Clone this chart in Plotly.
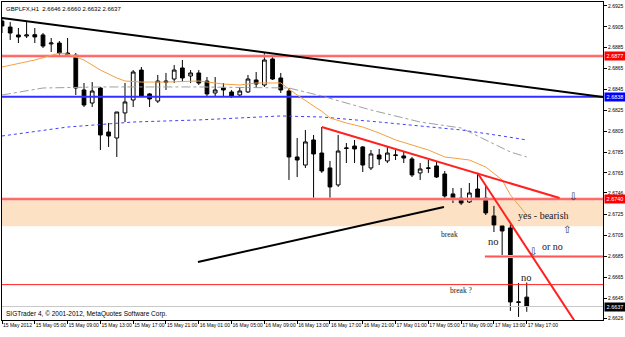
import plotly.graph_objects as go
import pandas as pd

# ---------------- data ----------------
start = pd.Timestamp("2012-05-15 01:00")
title_text = "GBPLFX,H1  2.6646 2.6660 2.6632 2.6637"
copyright_text = "SIGTrader 4, © 2001-2012, MetaQuotes Software Corp."

opens = [2.69106, 2.69048, 2.68972, 2.68962, 2.68975, 2.68972, 2.68886, 2.68895, 2.68799, 2.68780,
         2.68445, 2.68320, 2.68464, 2.68042, 2.67985, 2.68225, 2.68349, 2.68636, 2.68407, 2.68339,
         2.68531, 2.68550, 2.68656, 2.68579, 2.68608, 2.68531, 2.68416, 2.68464, 2.68426, 2.68397,
         2.68426, 2.68541, 2.68493, 2.68742, 2.68560, 2.68435, 2.67803, 2.67726, 2.67966, 2.67841,
         2.67698, 2.67535, 2.67884, 2.67908, 2.67899, 2.67698, 2.67822, 2.67765, 2.67817, 2.67813,
         2.67784, 2.67650, 2.67693, 2.67717, 2.67640, 2.67449, 2.67410, 2.67372, 2.67496, 2.67410,
         2.67238, 2.67142, 2.67123, 2.66409, 2.6646]
highs = [2.69125, 2.69096, 2.69039, 2.69096, 2.69039, 2.68991, 2.68943, 2.68914, 2.68943, 2.68799,
         2.68512, 2.68521, 2.68474, 2.68129, 2.68234, 2.68512, 2.68636, 2.68665, 2.68416, 2.68589,
         2.68608, 2.68684, 2.68732, 2.68636, 2.68636, 2.68569, 2.68569, 2.68512, 2.68445, 2.68474,
         2.68589, 2.68617, 2.68799, 2.68780, 2.68608, 2.68464, 2.67985, 2.68062, 2.68014, 2.68090,
         2.67765, 2.68014, 2.67937, 2.67966, 2.67908, 2.67870, 2.67880, 2.67899, 2.67880, 2.67860,
         2.67803, 2.67745, 2.67774, 2.67755, 2.67669, 2.67506, 2.67506, 2.67554, 2.67650, 2.67535,
         2.67334, 2.67142, 2.67152, 2.66596, 2.6660]
lows = [2.68991, 2.68924, 2.68895, 2.68943, 2.68895, 2.68847, 2.68809, 2.68780, 2.68761, 2.68397,
        2.68282, 2.68282, 2.67870, 2.67899, 2.67803, 2.68138, 2.68282, 2.68378, 2.68282, 2.68320,
        2.68445, 2.68512, 2.68521, 2.68512, 2.68493, 2.68378, 2.68378, 2.68378, 2.68368, 2.68378,
        2.68416, 2.68464, 2.68474, 2.68541, 2.68416, 2.67583, 2.67611, 2.67698, 2.67391, 2.67650,
        2.67391, 2.67516, 2.67745, 2.67745, 2.67659, 2.67678, 2.67726, 2.67745, 2.67774, 2.67745,
        2.67611, 2.67583, 2.67650, 2.67602, 2.67410, 2.67362, 2.67343, 2.67362, 2.67391, 2.67247,
        2.67084, 2.66855, 2.66328, 2.66270, 2.6632]
closes = [2.69058, 2.68991, 2.68953, 2.68972, 2.68953, 2.68866, 2.68895, 2.68799, 2.68771, 2.68464,
          2.68301, 2.68435, 2.68014, 2.68004, 2.68234, 2.68330, 2.68617, 2.68387, 2.68359, 2.68531,
          2.68521, 2.68636, 2.68560, 2.68608, 2.68512, 2.68407, 2.68445, 2.68445, 2.68387, 2.68435,
          2.68550, 2.68502, 2.68732, 2.68550, 2.68445, 2.67803, 2.67774, 2.67947, 2.67832, 2.67669,
          2.67516, 2.67860, 2.67889, 2.67880, 2.67726, 2.67832, 2.67784, 2.67841, 2.67822, 2.67793,
          2.67631, 2.67688, 2.67698, 2.67611, 2.67429, 2.67401, 2.67362, 2.67458, 2.67401, 2.67267,
          2.67152, 2.67094, 2.66414, 2.66414, 2.6637]

# moving averages (bar index, price)
ma_orange_bar = [0, 4, 7, 8, 10, 12, 14, 15, 17, 20, 24, 27, 29, 31, 34, 36, 39, 40, 42, 44, 46, 48,
                 50, 52, 54, 57, 59, 61, 62, 63, 64]
ma_orange_val = [2.68665, 2.68732, 2.68799, 2.68790, 2.68732, 2.68636, 2.68560, 2.68531, 2.68521,
                 2.68521, 2.68531, 2.68502, 2.68493, 2.68512, 2.68512, 2.68397, 2.68240, 2.68177,
                 2.68129, 2.68090, 2.68033, 2.67966, 2.67918, 2.67870, 2.67803, 2.67774, 2.67707,
                 2.67583, 2.67440, 2.67340, 2.67247]
ma_grey_bar = [0, 5, 12, 24, 35, 39, 45, 51, 56, 59, 62, 64]
ma_grey_val = [2.68397, 2.68464, 2.68474, 2.68474, 2.68464, 2.68387, 2.68253, 2.68138, 2.68081,
               2.67966, 2.67851, 2.67803]
ma_blue_bar = [0, 8, 16, 24, 34, 39, 46, 52, 56, 61, 64]
ma_blue_val = [2.68004, 2.68090, 2.68138, 2.68158, 2.68196, 2.68186, 2.68138, 2.68090, 2.68062,
               2.68004, 2.67966]

# horizontal levels
level_red_top = 2.6877
level_blue = 2.6838
zone_top = 2.6740
zone_bottom = 2.6714
level_red_mid = 2.6685
level_red_mid_from = 58.9
level_red_low = 2.6658
current_price = 2.6637

# trend lines: (hours from start, price)
black_trend_h = [0.0, 73.3]
black_trend_p = [2.69135, 2.68378]
black_low_h = [23.9, 53.9]
black_low_p = [2.66797, 2.67324]
red_trend1_h = [39.0, 68.0]
red_trend1_p = [2.68090, 2.67410]
red_trend2_h = [58.0, 70.6]
red_trend2_p = [2.67650, 2.66140]

# text notes: (hours, price, text, size)
notes = [
    (66.0, 2.67238, "yes - bearish", 10),
    (54.6, 2.67065, "break", 7.5),
    (59.9, 2.66998, "no", 10.5),
    (67.2, 2.66941, "or no", 10),
    (64.0, 2.66644, "no", 10.5),
    (56.0, 2.66519, "break ?", 7.5),
]
arrows = [
    (69.6, 2.67429, "⇩"),
    (68.9, 2.67104, "⇧"),
    (64.8, 2.66893, "⇩"),
]

x_tick_hours = list(range(0, 65, 4))
x_tick_text = ["15 May 2012", "15 May 05:00", "15 May 09:00", "15 May 13:00", "15 May 17:00",
               "15 May 21:00", "16 May 01:00", "16 May 05:00", "16 May 09:00", "16 May 13:00",
               "16 May 17:00", "16 May 21:00", "17 May 01:00", "17 May 05:00", "17 May 09:00",
               "17 May 13:00", "17 May 17:00"]
y_tick_vals = [2.6925, 2.6905, 2.6885, 2.6865, 2.6845, 2.6825, 2.6805, 2.6785, 2.6765, 2.6746,
               2.6725, 2.6705, 2.6685, 2.6665, 2.6645, 2.6626]

price_labels = [(2.6877, "2.6877", "#ff0000"), (2.6838, "2.6838", "#0000ff"),
                (2.6740, "2.6740", "#ff0000"), (2.6637, "2.6637", "#000000")]

SANS = "Liberation Sans, Arial, sans-serif"

# ---------------- figure ----------------
def T(h):
    return start + pd.Timedelta(hours=h)

times = [T(i) for i in range(len(opens))]
x0, x1 = T(0), T(73.3)

fig = go.Figure()

# zone
fig.add_shape(type="rect", xref="paper", x0=0, x1=1, yref="y", y0=zone_bottom, y1=zone_top,
              fillcolor="#fde1c4", line_width=0, layer="below")

def hline(y, color, width, xs=None, dash="solid"):
    xa = xs if xs is not None else [x0, x1]
    fig.add_trace(go.Scatter(x=xa, y=[y, y], mode="lines",
                             line=dict(color=color, width=width, dash=dash),
                             hoverinfo="skip", showlegend=False))

hline(current_price, "#c8c8c8", 1)
hline(level_red_top, "#ffaaaa", 3)
hline(level_red_top, "#ff3030", 1)
hline(level_blue, "#3030ff", 2)
hline(zone_top, "#ffaaaa", 3)
hline(zone_top, "#ff3030", 1)
hline(level_red_mid, "#ffaaaa", 3, xs=[T(level_red_mid_from), x1])
hline(level_red_mid, "#ff5050", 1, xs=[T(level_red_mid_from), x1])
hline(level_red_low, "#ff2020", 1)

# moving averages
fig.add_trace(go.Scatter(x=[T(b) for b in ma_blue_bar], y=ma_blue_val, mode="lines",
                         line=dict(color="#4040ff", width=1, dash="dot"), hoverinfo="skip", showlegend=False))
fig.add_trace(go.Scatter(x=[T(b) for b in ma_grey_bar], y=ma_grey_val, mode="lines",
                         line=dict(color="#a0a0a0", width=1, dash="dashdot"), hoverinfo="skip", showlegend=False))
fig.add_trace(go.Scatter(x=[T(b) for b in ma_orange_bar], y=ma_orange_val, mode="lines",
                         line=dict(color="#f5a040", width=1), hoverinfo="skip", showlegend=False))

# candles
fig.add_trace(go.Candlestick(
    x=times, open=opens, high=highs, low=lows, close=closes,
    increasing=dict(fillcolor="#ffffff", line=dict(color="#000000", width=1)),
    decreasing=dict(fillcolor="#000000", line=dict(color="#000000", width=1)),
    whiskerwidth=0, showlegend=False, hoverinfo="skip"))

# trend lines
for hs, ps, col, w in [(black_trend_h, black_trend_p, "#000000", 2),
                       (black_low_h, black_low_p, "#000000", 2),
                       (red_trend1_h, red_trend1_p, "#ff2020", 2),
                       (red_trend2_h, red_trend2_p, "#ff2020", 2)]:
    fig.add_trace(go.Scatter(x=[T(h) for h in hs], y=ps, mode="lines",
                             line=dict(color=col, width=w), hoverinfo="skip", showlegend=False))

annotations = []
for h, p, txt, sz in notes:
    annotations.append(dict(x=T(h), y=p, xref="x", yref="y", text=txt, showarrow=False,
                            font=dict(family="Liberation Serif", size=sz, color="#202020")))
for h, p, txt in arrows:
    annotations.append(dict(x=T(h), y=p, xref="x", yref="y", text=txt, showarrow=False,
                            font=dict(family="DejaVu Sans", size=10, color="#303040")))
for p, txt, col in price_labels:
    annotations.append(dict(x=1, y=p, xref="paper", yref="y", xanchor="left", yanchor="middle",
                            xshift=1, text=txt, showarrow=False, bgcolor=col, borderpad=0,
                            width=20, height=8, align="center",
                            font=dict(family=SANS, size=5.5, color="#ffffff")))
annotations.append(dict(x=0.004, y=0.995, xref="paper", yref="paper", xanchor="left", yanchor="top",
                        text=title_text, showarrow=False,
                        font=dict(family=SANS, size=6, color="#000000")))
annotations.append(dict(x=0.004, y=0.0, xref="paper", yref="paper", xanchor="left", yanchor="bottom",
                        text=copyright_text, showarrow=False,
                        font=dict(family=SANS, size=6.5, color="#000000")))

fig.update_layout(
    width=625, height=337,
    margin=dict(l=2, r=22, t=2, b=17),
    paper_bgcolor="#ffffff", plot_bgcolor="#ffffff",
    showlegend=False,
    boxgap=0.35,
    annotations=annotations,
    xaxis=dict(type="date", range=[x0, x1], rangeslider=dict(visible=False),
               tickvals=[T(h) for h in x_tick_hours], ticktext=x_tick_text,
               tickangle=0,
               ticks="outside", ticklen=3, tickcolor="#000000",
               ticklabelposition="outside right",
               tickfont=dict(family=SANS, size=5, color="#000000"),
               showgrid=False, zeroline=False, showline=True, linecolor="#000000",
               mirror=True, automargin=False),
    yaxis=dict(side="right", range=[2.66241, 2.69288], tickvals=y_tick_vals,
               ticktext=[f"{v:.4f}" for v in y_tick_vals],
               ticks="outside", ticklen=3, tickcolor="#000000",
               tickfont=dict(family=SANS, size=5, color="#000000"),
               showgrid=False, zeroline=False, showline=True, linecolor="#000000",
               mirror=True, automargin=False),
)

fig.write_html("out.html")
